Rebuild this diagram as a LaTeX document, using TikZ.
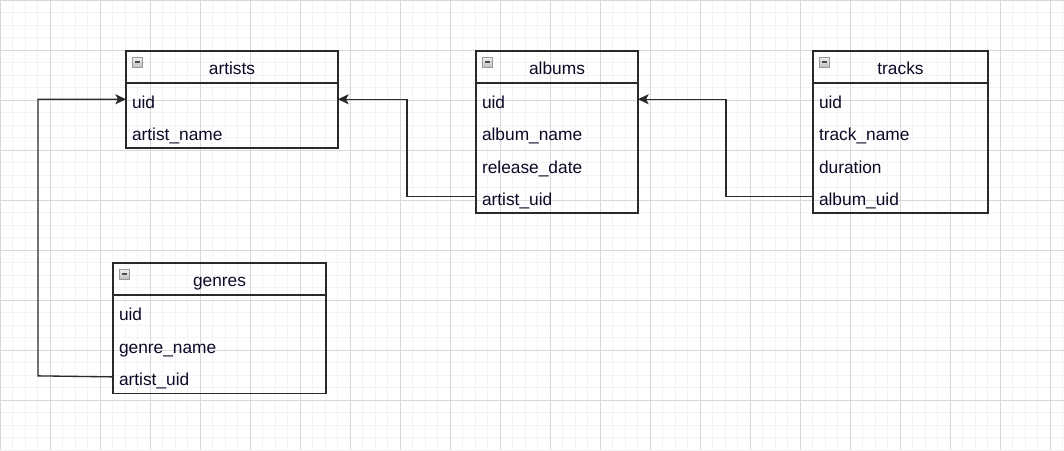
\documentclass[tikz,border=0pt]{standalone}
\usepackage{fontspec}
\setmainfont{Liberation Sans}
\usetikzlibrary{arrows.meta}
\definecolor{gridminor}{HTML}{F3F3F3}
\definecolor{gridmajor}{HTML}{D8D8D8}
\definecolor{edgecol}{HTML}{2A2A2A}
\definecolor{txt}{HTML}{0A0A26}
\begin{document}
\begin{tikzpicture}[x=0.75pt,y=-0.75pt,
  lbl/.style={font=\fontsize{13pt}{15.6pt}\selectfont, text=txt},
  hdr/.style={lbl, draw=edgecol, line width=1pt, anchor=north west, inner sep=0pt, outer sep=0pt,
    minimum height=24pt, text height=11.25pt, text depth=0pt},
  tbody/.style={draw=edgecol, line width=1pt, anchor=north west, inner sep=0pt, outer sep=0pt},
  field/.style={lbl, anchor=north west, align=left, text width=#1, inner xsep=4.5pt, inner ysep=0pt,
    outer sep=0pt, minimum height=24.375pt, text height=13.5pt, text depth=0pt},
  icon/.style={draw=gray!80, line width=0.5pt, rectangle, minimum size=7.5pt, inner sep=0pt,
    top color=gray!10, bottom color=gray!50,
    path picture={\fill[black!70] ([xshift=1.6pt,yshift=-0.6pt]path picture bounding box.west)
      rectangle ([xshift=-1.6pt,yshift=0.6pt]path picture bounding box.east);}},
  conn/.style={draw=edgecol, line width=1pt, -{Stealth[length=8pt,width=7.5pt,inset=2pt]}},
  minorline/.style={draw=gridminor, line width=0.75pt},
  majorline/.style={draw=gridmajor, line width=0.75pt}
]
\useasboundingbox (0,0) rectangle (1064,450);
\fill[white] (0,0) rectangle (1064,450);
% grid
\foreach \v in {0,12.5,...,1064} \draw[minorline] (\v,0) -- (\v,450);
\foreach \v in {0,12.5,...,450} \draw[minorline] (0,\v) -- (1064,\v);
\foreach \v in {0,50,...,1050} \draw[majorline] (\v,0) -- (\v,450);
\foreach \v in {0,50,...,400} \draw[majorline] (0,\v) -- (1064,\v);

% artists
\node[hdr, minimum width=159pt] (artists) at (126,51) {artists};
\node[tbody, minimum width=159pt, minimum height=48.75pt] (artists-body) at (126,83) {};
\node[field=150pt] (artists-uid) at (126,83) {uid};
\node[field=150pt] (artists-name) at (126,115.5) {artist\_name};
\node[icon] (artists-icon) at (137.5,62) {};

% albums
\node[hdr, minimum width=121.5pt] (albums) at (476,51) {albums};
\node[tbody, minimum width=121.5pt, minimum height=97.5pt] (albums-body) at (476,83) {};
\node[field=112.5pt] (albums-uid) at (476,83) {uid};
\node[field=112.5pt] (albums-name) at (476,115.5) {album\_name};
\node[field=112.5pt] (albums-date) at (476,148) {release\_date};
\node[field=112.5pt] (albums-artist) at (476,180.5) {artist\_uid};
\node[icon] (albums-icon) at (487.5,62) {};

% tracks
\node[hdr, minimum width=131.25pt] (tracks) at (813,51) {tracks};
\node[tbody, minimum width=131.25pt, minimum height=97.5pt] (tracks-body) at (813,83) {};
\node[field=122.25pt] (tracks-uid) at (813,83) {uid};
\node[field=122.25pt] (tracks-name) at (813,115.5) {track\_name};
\node[field=122.25pt] (tracks-duration) at (813,148) {duration};
\node[field=122.25pt] (tracks-album) at (813,180.5) {album\_uid};
\node[icon] (tracks-icon) at (824.5,62) {};

% genres
\node[hdr, minimum width=159.75pt] (genres) at (113,263) {genres};
\node[tbody, minimum width=159.75pt, minimum height=73.6875pt] (genres-body) at (113,295) {};
\node[field=150.75pt, minimum height=24.5625pt] (genres-uid) at (113,295) {uid};
\node[field=150.75pt, minimum height=24.5625pt] (genres-name) at (113,327.75) {genre\_name};
\node[field=150.75pt, minimum height=24.5625pt] (genres-artist) at (113,360.5) {artist\_uid};
\node[icon] (genres-icon) at (124.5,274) {};

% connectors
\draw[conn] (albums-artist.west) -- ++(-69,0) |- (artists-uid.east);
\draw[conn] (tracks-album.west) -- ++(-87,0) |- (albums-uid.east);
\draw[conn] (genres-artist.west) -- ++(-75,-1) |- (artists-uid.west);
\end{tikzpicture}
\end{document}
